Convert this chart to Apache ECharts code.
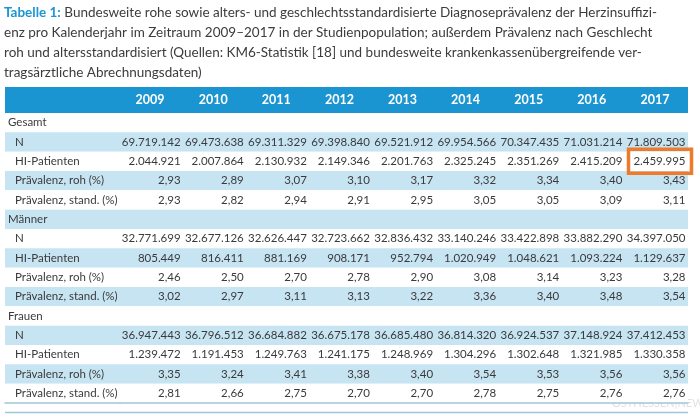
<!DOCTYPE html>
<html><head><meta charset="utf-8">
<script src="https://cdn.jsdelivr.net/npm/echarts@6/dist/echarts.min.js"></script>
<style>html,body{margin:0;padding:0;background:#fff}#c{width:700px;height:414px}</style>
</head><body><div id="c"></div>
<script>
// ---- data ----
const years = ['2009','2010','2011','2012','2013','2014','2015','2016','2017'];
const rowLabels = ['Gesamt','N','HI-Patienten','Prävalenz, roh (%)','Prävalenz, stand. (%)',
                   'Männer','N','HI-Patienten','Prävalenz, roh (%)','Prävalenz, stand. (%)',
                   'Frauen','N','HI-Patienten','Prävalenz, roh (%)','Prävalenz, stand. (%)'];
const sectionRows = [0, 5, 10];

const gesamtN     = [69719142, 69473638, 69311329, 69398840, 69521912, 69954566, 70347435, 71031214, 71809503];
const gesamtHI    = [2044921, 2007864, 2130932, 2149346, 2201763, 2325245, 2351269, 2415209, 2459995];
const gesamtRoh   = [2.93, 2.89, 3.07, 3.10, 3.17, 3.32, 3.34, 3.40, 3.43];
const gesamtStand = [2.93, 2.82, 2.94, 2.91, 2.95, 3.05, 3.05, 3.09, 3.11];

const maennerN     = [32771699, 32677126, 32626447, 32723662, 32836432, 33140246, 33422898, 33882290, 34397050];
const maennerHI    = [805449, 816411, 881169, 908171, 952794, 1020949, 1048621, 1093224, 1129637];
const maennerRoh   = [2.46, 2.50, 2.70, 2.78, 2.90, 3.08, 3.14, 3.23, 3.28];
const maennerStand = [3.02, 2.97, 3.11, 3.13, 3.22, 3.36, 3.40, 3.48, 3.54];

const frauenN     = [36947443, 36796512, 36684882, 36675178, 36685480, 36814320, 36924537, 37148924, 37412453];
const frauenHI    = [1239472, 1191453, 1249763, 1241175, 1248969, 1304296, 1302648, 1321985, 1330358];
const frauenRoh   = [3.35, 3.24, 3.41, 3.38, 3.40, 3.54, 3.53, 3.56, 3.56];
const frauenStand = [2.81, 2.66, 2.75, 2.70, 2.70, 2.78, 2.75, 2.76, 2.76];

// highlighted cell: [year index, row index]
const highlightCells = [[8, 2]];

const titleLines = [
  'Bundesweite rohe sowie alters- und geschlechtsstandardisierte Diagnoseprävalenz der Herzinsuffizi-',
  'enz pro Kalenderjahr im Zeitraum 2009–2017 in der Studienpopulation; außerdem Prävalenz nach Geschlecht',
  'roh und altersstandardisiert (Quellen: KM6-Statistik [18] und bundesweite krankenkassenübergreifende ver-',
  'tragsärztliche Abrechnungsdaten)'
];

// ---- build ----
const rowSeries = [null, gesamtN, gesamtHI, gesamtRoh, gesamtStand,
                   null, maennerN, maennerHI, maennerRoh, maennerStand,
                   null, frauenN, frauenHI, frauenRoh, frauenStand];
function fmt(v) {
  if (v >= 1000) return String(v).replace(/\B(?=(\d{3})+(?!\d))/g, '.');
  return v.toFixed(2).replace('.', ',');
}
const cells = [], cellText = [];
rowSeries.forEach((arr, r) => {
  if (!arr) return;
  arr.forEach((v, c) => { cells.push([c, r]); cellText.push(fmt(v)); });
});

const FONT = 'Lato';
const TXT = '#3a3a3a';
const BAND = '#c7e4f3';
const HEAD = '#1a95d1';
const LINE = '#9fc8d6';
const TOP = 113, H = 290;

const chart = echarts.init(document.getElementById('c'), null, {renderer: 'canvas'});
chart.setOption({
  animation: false,
  textStyle: {fontFamily: FONT},
  title: {
    left: 4, top: 3, padding: 0,
    text: '{b|Tabelle 1:} ' + titleLines.join('\n'),
    textStyle: {
      fontFamily: FONT, fontSize: 13.5, fontWeight: 'normal', color: '#3c3c3c', lineHeight: 20,
      rich: {b: {fontFamily: FONT, fontSize: 13.5, fontWeight: 'bold', color: '#1a96d3', lineHeight: 20}}
    }
  },
  graphic: [
    {type: 'rect', z: -1, shape: {x: 5, y: 87, width: 683, height: TOP - 87}, style: {fill: HEAD}},
    {type: 'line', shape: {x1: 5, y1: 412.5, x2: 688, y2: 412.5}, style: {stroke: LINE, lineWidth: 1.5}},
    {type: 'text', x: 612, y: 398, style: {text: 'OSTHESSEN|NEWS', fill: 'rgba(170,170,170,0.35)', font: '11px ' + FONT}}
  ],
  grid: [
    {left: 5, top: TOP, width: 115, height: H},
    {left: 120, top: TOP, width: 568, height: H}
  ],
  xAxis: [
    {type: 'category', gridIndex: 0, data: [''], position: 'bottom',
     axisLine: {show: true, lineStyle: {color: LINE, width: 1.5}}, axisTick: {show: false}, axisLabel: {show: false}},
    {type: 'category', gridIndex: 1, data: years, position: 'top',
     axisLine: {show: false}, axisTick: {show: false},
     axisLabel: {interval: 0, margin: 13, verticalAlign: 'middle', color: '#ffffff', fontWeight: 'bold',
                 fontSize: 12.5, fontFamily: FONT, padding: [0, 3, 0, 0]}},
    {type: 'category', gridIndex: 1, data: years, position: 'bottom',
     axisLine: {show: true, lineStyle: {color: LINE, width: 1.5}}, axisTick: {show: false}, axisLabel: {show: false}}
  ],
  yAxis: [
    {type: 'category', gridIndex: 0, data: rowLabels, inverse: true,
     axisLine: {show: false}, axisTick: {show: false},
     splitLine: {show: false},
     splitArea: {show: true, interval: 0, areaStyle: {color: ['#ffffff', BAND]}},
     axisLabel: {inside: true, interval: 0, margin: 3, color: TXT, fontSize: 11.5, fontFamily: FONT,
       formatter: (v, i) => sectionRows.includes(i) ? '{s|' + v + '}' : '{r|' + v + '}',
       rich: {s: {fontSize: 11.5, fontFamily: FONT, color: TXT},
              r: {fontSize: 11.5, fontFamily: FONT, color: TXT, padding: [0, 0, 0, 7]}}}},
    {type: 'category', gridIndex: 1, data: rowLabels, inverse: true,
     axisLine: {show: false}, axisTick: {show: false}, axisLabel: {show: false},
     splitLine: {show: false},
     splitArea: {show: true, interval: 0, areaStyle: {color: ['#ffffff', BAND]}}}
  ],
  series: [
    {
      type: 'custom', xAxisIndex: 1, yAxisIndex: 1, data: cells, z: 3,
      renderItem: (params, api) => {
        const c = api.coord([api.value(0), api.value(1)]);
        const s = api.size([1, 1]);
        return {type: 'text', x: c[0] + s[0] / 2 - 2.5, y: c[1],
          style: {text: cellText[params.dataIndex], align: 'right', verticalAlign: 'middle',
                  fill: TXT, font: '11.5px ' + FONT}};
      }
    },
    {
      type: 'custom', xAxisIndex: 1, yAxisIndex: 1, data: highlightCells, z: 4,
      renderItem: (params, api) => {
        const c = api.coord([api.value(0), api.value(1)]);
        const s = api.size([1, 1]);
        const right = c[0] + s[0] / 2 + 3.5;
        return {type: 'rect', shape: {x: right - 63, y: c[1] - 12, width: 63, height: 24},
          style: {fill: 'none', stroke: '#ee7b2b', lineWidth: 3.5}};
      }
    }
  ]
});
</script></body></html>
